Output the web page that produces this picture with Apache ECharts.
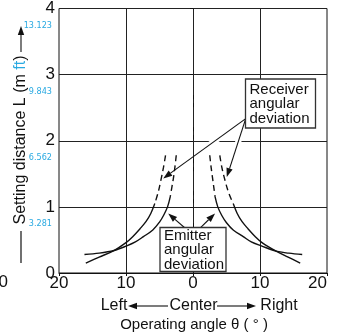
<!DOCTYPE html>
<html>
<head>
<meta charset="utf-8">
<script src="https://cdn.jsdelivr.net/npm/echarts@6/dist/echarts.min.js"></script>
<style>
html, body { margin: 0; padding: 0; background: #fff; }
#chart { width: 347px; height: 336px; }
</style>
</head>
<body>
<div id="chart"></div>
<script>
// axis ticks
var xTicks = [-20, -10, 0, 10, 20]
var mTicks = [0, 1, 2, 3, 4]
var ftTicks = ['', '3.281', '6.562', '9.843', '13.123']

// Receiver angular deviation (outer pair), dashed part above about 1 m
var recvLeftDash = [[-4.1, 1.78], [-4.4, 1.6], [-4.8, 1.4], [-5.2, 1.22], [-5.7, 1.05]]
var recvLeftSolid = [[-5.7, 1.05], [-6.3, 0.9], [-7, 0.78], [-7.9, 0.67], [-9, 0.55], [-10, 0.46], [-11.8, 0.34], [-14, 0.24], [-16, 0.15]]
var recvRightDash = [[4.0, 1.78], [4.3, 1.6], [4.7, 1.43], [5.3, 1.22], [6.0, 1.05]]
var recvRightSolid = [[6.0, 1.05], [6.6, 0.9], [7.3, 0.78], [8.2, 0.67], [9.3, 0.55], [10.3, 0.46], [12.4, 0.33], [14.2, 0.24], [16, 0.15]]

// Emitter angular deviation (inner pair)
var emitLeftDash = [[-2.5, 1.78], [-2.7, 1.6], [-2.9, 1.45], [-3.15, 1.3], [-3.4, 1.15]]
var emitLeftSolid = [[-3.4, 1.15], [-3.8, 1.0], [-4.4, 0.87], [-5, 0.77], [-6, 0.65], [-7.4, 0.55], [-8.6, 0.47], [-9.9, 0.41], [-11.8, 0.34], [-14, 0.3], [-16.2, 0.28]]
var emitRightDash = [[2.5, 1.78], [2.7, 1.6], [2.9, 1.45], [3.1, 1.3], [3.3, 1.15]]
var emitRightSolid = [[3.3, 1.15], [3.7, 1.0], [4.3, 0.87], [5, 0.76], [6, 0.65], [7.5, 0.55], [8.7, 0.47], [10.2, 0.41], [12.4, 0.33], [14.3, 0.3], [16.3, 0.28]]

// where the centre line turns from solid to dash-dot
var centerBreak = 2.81

var blue = '#29a9e1'
var font = 'Liberation Sans, Arial, sans-serif'
var narrowFont = 'Liberation Sans Narrow, Arial Narrow, DejaVu Sans Condensed, Roboto Condensed, Liberation Sans, sans-serif'

function curve (name, data, dashed) {
  return {
    name: name,
    type: 'line',
    data: data,
    smooth: 0.35,
    showSymbol: false,
    symbol: 'none',
    silent: true,
    z: 5,
    lineStyle: { color: '#111', width: 1.4, type: dashed ? [6, 4] : 'solid' }
  }
}

var myChart = echarts.init(document.getElementById('chart'))

var series = [
  curve('Receiver angular deviation', recvLeftDash, true),
  curve('Receiver angular deviation', recvLeftSolid, false),
  curve('Receiver angular deviation', recvRightDash, true),
  curve('Receiver angular deviation', recvRightSolid, false),
  curve('Emitter angular deviation', emitLeftDash, true),
  curve('Emitter angular deviation', emitLeftSolid, false),
  curve('Emitter angular deviation', emitRightDash, true),
  curve('Emitter angular deviation', emitRightSolid, false)
]

// vertical grid lines, the centre one is a chain line in its lower part
series[0].markLine = {
  silent: true,
  symbol: 'none',
  animation: false,
  label: { show: false },
  lineStyle: { color: '#222', width: 1, type: 'solid' },
  data: [
    { xAxis: xTicks[1] },
    { xAxis: xTicks[3] },
    [{ coord: [0, centerBreak] }, { coord: [0, mTicks[4]] }],
    [{ coord: [0, centerBreak], lineStyle: { type: [20, 4, 4, 4], dashOffset: 12 } }, { coord: [0, 0] }]
  ]
}

var option = {
  animation: false,
  grid: {
    left: 59,
    right: 20,
    top: 8,
    bottom: 63,
    show: true,
    borderColor: '#111',
    borderWidth: 1
  },
  xAxis: {
    type: 'value',
    min: xTicks[0],
    max: xTicks[4],
    interval: 10,
    axisLine: { show: true, lineStyle: { color: '#111', width: 1 } },
    axisTick: { show: true, length: 3, lineStyle: { color: '#111' } },
    splitLine: { show: false },
    axisLabel: {
      color: '#111',
      fontSize: 17,
      fontFamily: font,
      margin: 2,
      alignMaxLabel: 'right',
      formatter: function (v) { return String(Math.abs(v)) }
    }
  },
  yAxis: [{
    type: 'value',
    min: mTicks[0],
    max: mTicks[4],
    interval: 1,
    axisLine: { show: true, lineStyle: { color: '#111', width: 1 } },
    axisTick: { show: true, length: 3, lineStyle: { color: '#111' } },
    splitLine: { show: true, lineStyle: { color: '#222', width: 1 } },
    axisLabel: { margin: 4, fontSize: 17, color: '#111', fontFamily: font }
  }, {
    // feet scale, drawn under the metre labels
    type: 'value',
    position: 'left',
    min: mTicks[0],
    max: mTicks[4],
    interval: 1,
    axisLine: { show: false },
    axisTick: { show: false },
    splitLine: { show: false },
    axisLabel: {
      margin: 7,
      fontSize: 9,
      color: blue,
      fontFamily: narrowFont,
      verticalAlign: 'top',
      lineHeight: 10,
      padding: [12, 0, 0, 0],
      formatter: function (v) { return ftTicks[mTicks.indexOf(v)] || '' }
    }
  }],
  series: series
}
myChart.setOption(option)

// ---- annotations ----
function px (pt) {
  return myChart.convertToPixel({ gridIndex: 0 }, pt)
}

function arrowParts (p0, p1, halo) {
  var dx = p1[0] - p0[0]
  var dy = p1[1] - p0[1]
  var len = Math.sqrt(dx * dx + dy * dy)
  var ux = dx / len
  var uy = dy / len
  var head = 9
  var half = 3.2
  var bx = p1[0] - ux * head
  var by = p1[1] - uy * head
  var parts = []
  if (halo) {
    parts.push({
      type: 'line',
      z: 90,
      silent: true,
      shape: { x1: p0[0] + dx * 0.06, y1: p0[1] + dy * 0.06, x2: p0[0] + dx * 0.6, y2: p0[1] + dy * 0.6 },
      style: { stroke: '#fff', lineWidth: 6 }
    })
  }
  parts.push({
    type: 'line',
    z: 95,
    silent: true,
    shape: { x1: p0[0], y1: p0[1], x2: bx, y2: by },
    style: { stroke: '#111', lineWidth: 1.1 }
  })
  parts.push({
    type: 'polygon',
    z: 95,
    silent: true,
    shape: { points: [[p1[0], p1[1]], [bx - uy * half, by + ux * half], [bx + uy * half, by - ux * half]] },
    style: { fill: '#111' }
  })
  return parts
}

function labelBox (x, y, w, h, firstLine, lines) {
  return [{
    type: 'rect',
    z: 96,
    silent: true,
    shape: { x: x, y: y, width: w, height: h },
    style: { fill: '#fff', stroke: '#333', lineWidth: 1.3 }
  }, {
    type: 'text',
    z: 97,
    silent: true,
    x: x + 4,
    y: y + firstLine,
    style: { text: lines.join('\n'), font: '15px ' + font, lineHeight: 14.5, fill: '#111', align: 'left', verticalAlign: 'middle' }
  }]
}

var graphics = []

// Receiver label and arrows to the outer dashed curves
var recvFrom = px([7.87, 2.335])
graphics = graphics.concat(arrowParts(recvFrom, px([-4.44, 1.43]), true))
graphics = graphics.concat(arrowParts(recvFrom, px([5.04, 1.45]), true))
graphics = graphics.concat(labelBox(245.5, 79, 70, 49, 25, ['Receiver', 'angular', 'deviation']))

// Emitter label and arrows to the inner curves
graphics = graphics.concat(arrowParts(px([-1.2, 0.68]), px([-3.7, 0.9]), false))
graphics = graphics.concat(arrowParts(px([1.05, 0.68]), px([3.29, 0.9]), false))
graphics = graphics.concat(labelBox(160, 227.5, 66, 44, 22.5, ['Emitter', 'angular', 'deviation']))

// y axis title with its lead line and arrow
graphics.push({
  type: 'text',
  silent: true,
  x: 21,
  y: 140,
  rotation: Math.PI / 2,
  style: {
    text: '{a|Setting distance L (m }{b|ft}{a|)}',
    align: 'center',
    verticalAlign: 'middle',
    rich: {
      a: { fontSize: 16, fontFamily: font, fill: '#111', color: '#111' },
      b: { fontSize: 16, fontFamily: font, fill: blue, color: blue }
    }
  }
})
graphics.push({
  type: 'line', silent: true,
  shape: { x1: 21, y1: 231, x2: 21, y2: 263 },
  style: { stroke: '#111', lineWidth: 1.2 }
})
graphics = graphics.concat(arrowParts([21, 52], [21, 26], false))

// x axis captions
graphics.push({
  type: 'text', silent: true, x: 114, y: 306,
  style: { text: 'Left', font: '16px ' + font, fill: '#111', align: 'center', verticalAlign: 'middle' }
})
graphics.push({
  type: 'text', silent: true, x: 193.5, y: 306,
  style: { text: 'Center', font: '16px ' + font, fill: '#111', align: 'center', verticalAlign: 'middle' }
})
graphics.push({
  type: 'text', silent: true, x: 279, y: 306,
  style: { text: 'Right', font: '16px ' + font, fill: '#111', align: 'center', verticalAlign: 'middle' }
})
graphics = graphics.concat(arrowParts([168, 306], [128, 306], false))
graphics = graphics.concat(arrowParts([217, 306], [256, 306], false))
graphics.push({
  type: 'text', silent: true, x: 194, y: 325,
  style: { text: 'Operating angle θ ( ° )', font: '15px ' + font, fill: '#111', align: 'center', verticalAlign: 'middle' }
})
// clipped label at the far left edge
graphics.push({
  type: 'text', silent: true, x: 8, y: 282,
  style: { text: '0', font: '17px ' + font, fill: '#111', align: 'right', verticalAlign: 'middle' }
})

myChart.setOption({ graphic: graphics })
</script>
</body>
</html>
